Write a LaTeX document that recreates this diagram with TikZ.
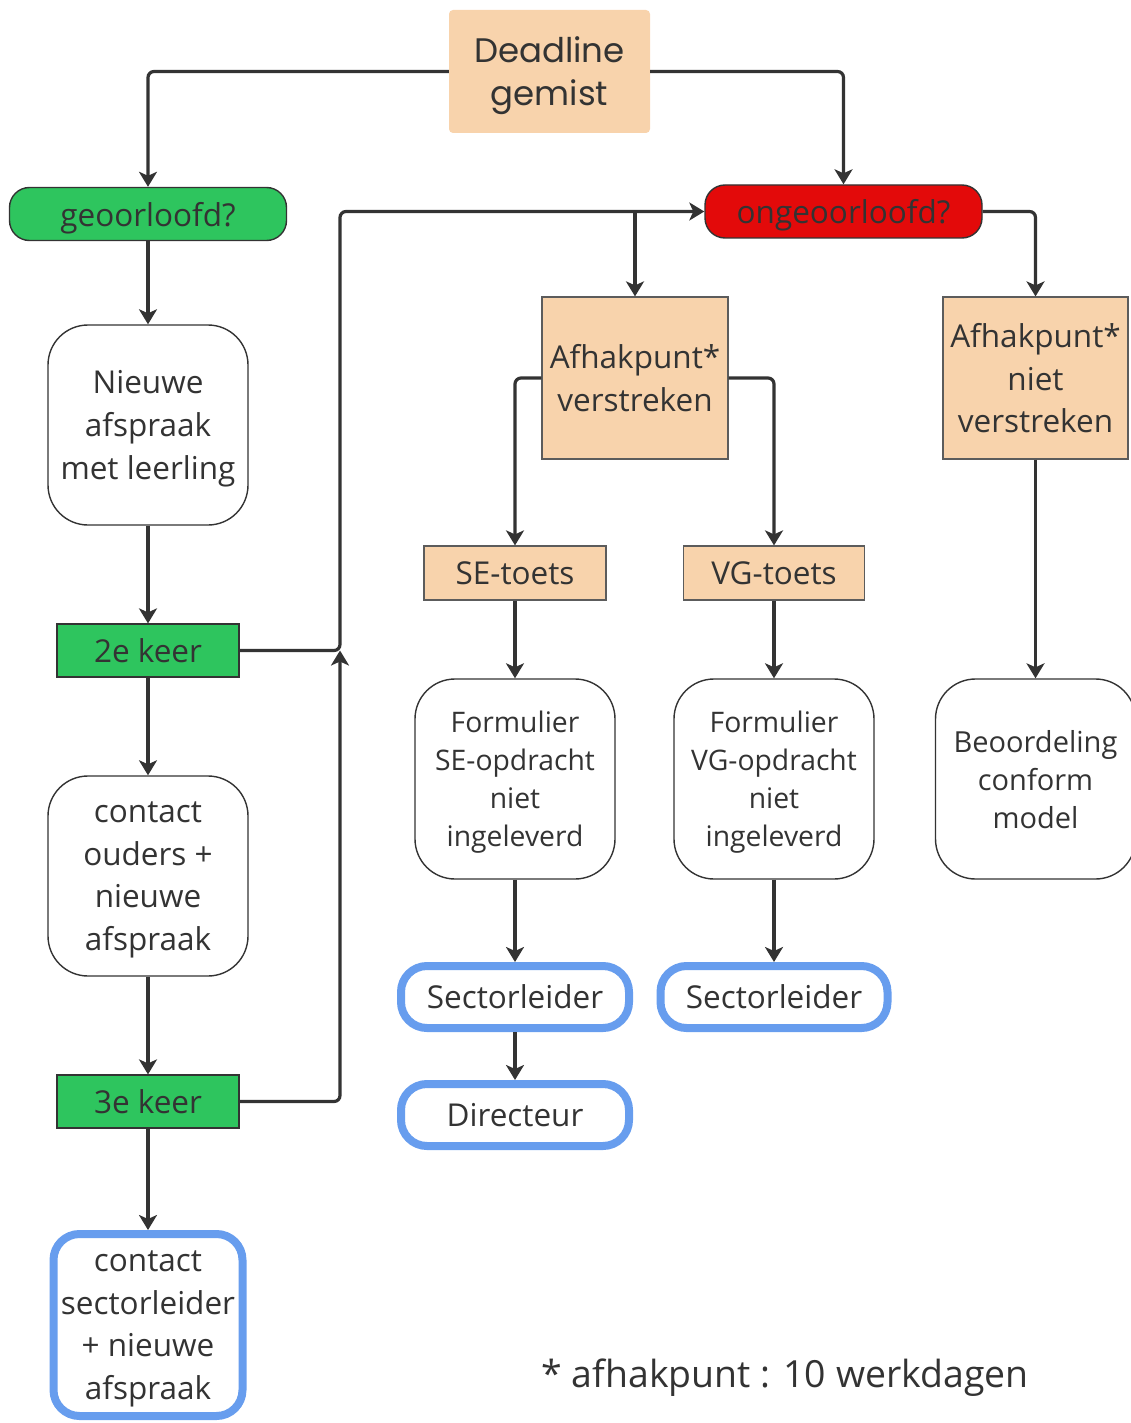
\documentclass[tikz,border=0pt]{standalone}
\usepackage{fontspec}
\setmainfont{Open Sans}
\newfontfamily\headfont{Poppins}
\usetikzlibrary{arrows.meta}

\definecolor{peach}{RGB}{248,211,172}
\definecolor{okgreen}{RGB}{46,197,94}
\definecolor{notred}{RGB}{227,10,10}
\definecolor{stepblue}{RGB}{103,157,238}
\definecolor{ink}{RGB}{51,51,51}

\begin{document}
\begin{tikzpicture}[x=1pt,y=-1pt]
            \tikzset{every node/.style = {text depth=0pt}}
            \tikzset{peachbox/.style = {rectangle,fill=peach,draw=ink!80,line width=1.2pt,inner sep=0pt,align=center,text=ink,font=\fontsize{31.5}{43}\selectfont}}
            \tikzset{greenbox/.style = {rectangle,fill=okgreen,draw=ink,line width=1.2pt,inner sep=0pt,align=center,text=ink,font=\fontsize{31.5}{40}\selectfont,minimum width=182pt,minimum height=53pt}}
            \tikzset{question/.style = {rectangle,rounded corners=20pt,draw=ink,line width=1.4pt,inner sep=0pt,text=ink,font=\fontsize{31.5}{40}\selectfont,minimum width=277pt,minimum height=53pt}}
            \tikzset{roundbox/.style = {rectangle,rounded corners=40pt,draw=ink,line width=1.4pt,fill=white,inner sep=0pt,align=center,text=ink,minimum width=200pt,minimum height=200pt}}
            \tikzset{bluebox/.style = {rectangle,rounded corners=26pt,draw=stepblue,line width=8pt,fill=white,inner sep=0pt,align=center,text=ink,font=\fontsize{31.5}{42.5}\selectfont}}
            \tikzset{conn/.style = {draw=ink,line width=3.2pt,rounded corners=6pt,-{Stealth[length=15pt,width=18pt,inset=4pt]}}}

            \useasboundingbox (0,0) rectangle (1131,1423);

            \node[rectangle,fill=peach,rounded corners=4pt,inner sep=0pt,minimum width=201pt,minimum height=123pt,align=center,text=ink,font=\headfont\fontsize{34}{43}\selectfont] (dl) at (549.5,71.5) {Deadline\\gemist};

            \node[question,fill=okgreen] (geo) at (148,214) {geoorloofd?};
            \node[question,fill=notred] (ongeo) at (843.5,211.5) {ongeoorloofd?};

            % left column
            \node[roundbox,font=\fontsize{31.5}{43}\selectfont] (nieuw) at (148,425) {Nieuwe\\afspraak\\met leerling};
            \node[greenbox] (keer2) at (148,650.5) {2e keer};
            \node[roundbox,font=\fontsize{31.5}{42.5}\selectfont] (ouders) at (148,876) {contact\\ouders +\\nieuwe\\afspraak};
            \node[greenbox] (keer3) at (148,1101.5) {3e keer};
            \node[bluebox,minimum width=189pt,minimum height=182pt] (sector) at (148,1325) {contact\\sectorleider\\+ nieuwe\\afspraak};

            % middle columns
            \node[peachbox,minimum width=186pt,minimum height=162pt] (verstr) at (635,378) {Afhakpunt*\\verstreken};
            \node[peachbox,minimum width=182pt,minimum height=54pt] (se) at (515,573) {SE-toets};
            \node[peachbox,minimum width=181pt,minimum height=54pt] (vg) at (774,573) {VG-toets};
            \node[roundbox,font=\fontsize{28.3}{38}\selectfont] (formse) at (515,779) {Formulier\\SE-opdracht\\niet\\ingeleverd};
            \node[roundbox,font=\fontsize{28.3}{38}\selectfont] (formvg) at (774,779) {Formulier\\VG-opdracht\\niet\\ingeleverd};
            \node[bluebox,minimum width=228pt,minimum height=62pt] (sectse) at (515,997) {Sectorleider};
            \node[bluebox,minimum width=227pt,minimum height=62pt] (sectvg) at (774,997) {Sectorleider};
            \node[bluebox,minimum width=228pt,minimum height=62pt] (dir) at (515,1115) {Directeur};

            % right column
            \node[peachbox,minimum width=185pt,minimum height=162pt,font=\fontsize{31.5}{42.5}\selectfont] (niet) at (1035.5,378) {Afhakpunt*\\niet\\verstreken};
            \node[roundbox,font=\fontsize{29}{38}\selectfont] (beoord) at (1035.5,779) {Beoordeling\\conform\\model};

            \node[text=ink,font=\fontsize{37.4}{40}\selectfont] (note) at (785,1373) {* afhakpunt : 10 werkdagen};

            \coordinate (join) at (340,650.5);

            \draw[conn] (dl.west) -| (geo.north);
            \draw[conn] (dl.east) -| (ongeo.north);
            \draw[conn] (geo) -- (nieuw);
            \draw[conn] (nieuw) -- (keer2);
            \draw[conn] (keer2) -- (ouders);
            \draw[conn] (ouders) -- (keer3);
            \draw[conn] (keer3) -- (sector);
            \draw[conn] (keer3.east) -| (join);
            \draw[conn] (keer2.east) -- (join) |- (ongeo.west);
            \draw[conn] (verstr.north |- ongeo.west) -- (verstr.north);
            \draw[conn] (ongeo.east) -| (niet.north);
            \draw[conn] (verstr.west) -| (se.north);
            \draw[conn] (verstr.east) -| (vg.north);
            \draw[conn] (se) -- (formse);
            \draw[conn] (vg) -- (formvg);
            \draw[conn] (formse) -- (sectse);
            \draw[conn] (formvg) -- (sectvg);
            \draw[conn] (sectse) -- (dir);
            \draw[conn] (niet) -- (beoord);
          \end{tikzpicture}
\end{document}
